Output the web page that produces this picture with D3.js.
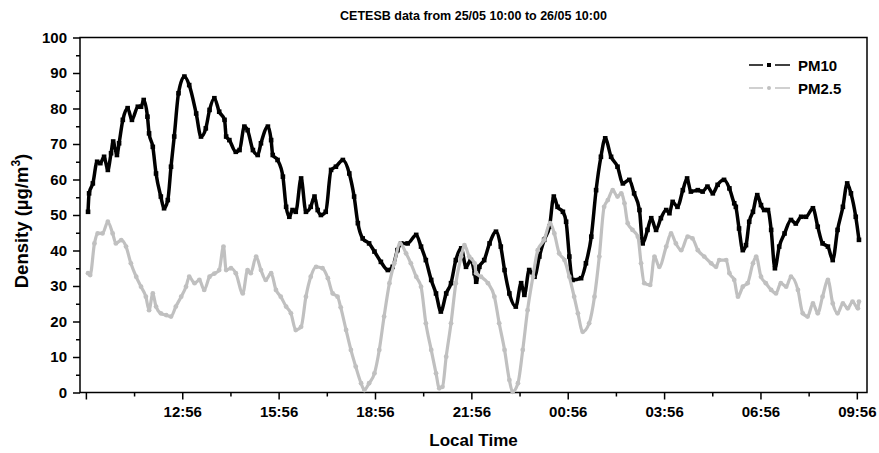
<!DOCTYPE html>
<html>
<head>
<meta charset="utf-8">
<script src="https://cdn.jsdelivr.net/npm/d3@7"></script>
<style>
body{margin:0;background:#fff;}
text{font-family:'Liberation Sans',Arial,sans-serif;font-weight:bold;fill:#000;}
</style>
</head>
<body>
<div id="plot"></div>
<script>
//Data (local time, µg/m3)
const pm10Times = ["10:00","10:02","10:09","10:17","10:23","10:30","10:37","10:43","10:47","10:54",
	"10:58","11:05","11:14","11:22","11:33","11:39","11:44","11:51","11:54","12:01",
	"12:07","12:16","12:22","12:29","12:35","12:41","12:49","13:00","13:09","13:22",
	"13:31","13:40","13:47","13:56","14:05","14:15","14:18","14:24","14:36","14:43",
	"14:52","14:58","15:08","15:17","15:23","15:36","15:42","15:45","15:54","16:04",
	"16:10","16:16","16:22","16:28","16:38","16:47","16:56","17:03","17:09","17:15",
	"17:24","17:34","17:43","17:56","18:08","18:17","18:24","18:33","18:45","18:55",
	"19:07","19:20","19:29","19:38","19:45","19:57","20:13","20:22","20:31","20:41",
	"20:50","20:59","21:09","21:18","21:27","21:37","21:46","21:55","22:02","22:05",
	"22:11","22:20","22:30","22:42","22:51","22:58","23:07","23:19","23:29","23:35",
	"23:44","23:54","00:03","00:12","00:22","00:30","00:37","00:47","00:53","00:59",
	"01:05","01:21","01:30","01:40","01:49","01:58","02:06","02:17","02:29","02:39",
	"02:51","03:00","03:10","03:16","03:25","03:32","03:41","03:50","04:00","04:06",
	"04:12","04:21","04:31","04:39","04:46","04:59","05:08","05:17","05:27","05:36",
	"05:48","05:58","06:07","06:10","06:16","06:23","06:29","06:35","06:42","06:50",
	"06:57","07:03","07:10","07:16","07:23","07:31","07:41","07:53","08:02","08:12",
	"08:21","08:34","08:43","08:52","09:02","09:11","09:20","09:30","09:38","09:45",
	"09:54","10:00"];
const pm10Values = [50.9,56.1,58.9,65.0,64.6,66.4,62.7,67.4,70.7,66.9,
	70.2,76.8,80.1,76.8,80.5,80.5,82.4,77.7,73.0,69.2,
	61.7,55.2,51.9,54.2,63.6,72.1,84.3,89.0,86.6,78.6,
	72.1,74.4,79.6,82.9,79.1,76.8,72.1,71.1,67.8,68.3,
	74.9,73.9,68.3,66.9,70.2,74.9,71.1,66.9,65.5,60.8,
	52.3,49.5,51.4,50.9,60.3,50.9,52.3,55.2,51.4,50.0,
	50.9,62.7,63.6,65.5,61.7,55.2,47.7,43.4,42.0,39.7,
	36.8,34.5,35.4,40.1,42.0,42.0,44.4,41.1,37.3,31.7,
	27.9,22.8,27.9,30.8,37.3,40.6,35.4,37.3,33.6,31.2,
	35.4,37.3,42.0,45.3,41.1,34.5,27.9,24.2,30.8,27.5,
	34.5,32.6,38.3,43.0,46.7,55.2,52.3,50.9,48.1,38.3,
	31.7,32.2,36.4,43.9,57.0,66.4,71.6,66.4,63.6,58.9,
	59.9,56.1,51.4,42.0,45.8,49.1,45.8,49.1,51.4,50.5,
	53.7,52.3,57.0,60.3,56.6,57.0,56.6,58.0,56.1,58.5,
	59.9,57.5,53.3,52.3,46.2,40.1,41.5,48.1,50.9,55.6,
	52.8,51.4,51.4,45.8,35.0,41.1,44.8,48.6,47.6,49.5,
	49.5,51.9,46.7,42.0,41.1,37.3,45.8,52.3,58.9,56.1,
	49.5,43.0];

const pm25Times = ["10:00","10:04","10:12","10:18","10:27","10:37","10:46","10:52","11:02","11:11",
	"11:20","11:30","11:39","11:48","11:54","12:01","12:07","12:16","12:26","12:35",
	"12:44","12:54","13:03","13:09","13:19","13:28","13:37","13:47","13:56","14:05",
	"14:13","14:18","14:27","14:36","14:49","14:58","15:04","15:14","15:23","15:32",
	"15:42","15:51","16:00","16:10","16:19","16:28","16:38","16:47","16:56","17:06",
	"17:18","17:28","17:37","17:46","17:52","18:02","18:11","18:20","18:30","18:36",
	"18:45","18:55","19:04","19:13","19:23","19:32","19:43","19:54","20:03","20:13",
	"20:22","20:31","20:41","20:50","20:56","21:02","21:09","21:18","21:27","21:37",
	"21:43","21:52","22:02","22:05","22:14","22:27","22:39","22:48","22:58","23:07",
	"23:13","23:23","23:32","23:41","23:51","00:00","00:12","00:23","00:31","00:40",
	"00:50","00:59","01:08","01:15","01:24","01:36","01:46","01:55","02:04","02:11",
	"02:20","02:29","02:36","02:42","02:48","02:57","03:07","03:13","03:19","03:30",
	"03:38","03:47","04:00","04:09","04:18","04:28","04:40","04:49","04:59","05:11",
	"05:24","05:33","05:39","05:52","05:58","06:07","06:14","06:23","06:32","06:42",
	"06:48","06:57","07:06","07:16","07:25","07:34","07:44","07:53","08:06","08:15",
	"08:24","08:34","08:43","08:52","09:02","09:11","09:20","09:30","09:39","09:48",
	"09:58","10:00"];
const pm25Values = [33.6,33.1,42.0,44.8,44.8,48.1,44.8,42.0,42.9,41.1,
	36.4,32.6,29.8,27.0,23.2,27.9,24.2,22.3,21.8,21.4,
	24.2,27.0,29.8,32.6,30.8,31.7,28.9,32.6,33.5,34.5,
	41.1,34.5,35.0,33.6,27.9,34.5,33.6,38.3,34.5,31.7,
	33.6,28.9,27.0,24.2,22.3,17.6,18.5,27.0,32.6,35.4,
	35.0,32.2,27.9,27.0,24.0,17.6,12.0,7.3,2.6,0.7,
	2.6,5.4,12.0,21.4,30.8,36.4,42.0,39.2,36.4,32.6,
	29.8,19.5,12.0,5.4,1.2,1.6,10.1,19.5,30.8,38.3,
	41.5,38.3,36.4,33.6,32.6,30.8,27.0,19.5,12.0,3.5,
	0.2,2.6,12.0,23.2,32.6,40.1,43.0,47.7,44.8,39.2,
	37.3,32.6,27.0,22.3,17.1,19.5,27.0,38.3,52.3,54.2,
	57.0,55.2,56.1,53.3,47.7,45.8,43.9,36.4,30.8,30.3,
	38.3,35.4,41.1,44.8,42.0,40.1,43.9,43.4,40.1,38.3,
	36.4,35.4,37.3,37.3,33.6,31.7,27.0,29.8,30.8,36.4,
	38.3,32.6,30.8,28.9,27.9,30.8,29.8,32.6,28.9,22.3,
	21.4,25.1,22.3,27.0,31.7,25.1,22.3,25.1,23.7,25.6,
	23.7,25.6];

const yTicks = [0,10,20,30,40,50,60,70,80,90,100];
const xTickLabels = ["","12:56","15:56","18:56","21:56","00:56","03:56","06:56","09:56"];
const seriesNames = ["PM10","PM2.5"];

//Prepare DOM canvas
const w = 879;
const h = 453;
const m = {l: 80, r: 867, t: 37.5, b: 392.5};
const svg = d3.select('#plot').append('svg').attr('width', w).attr('height', h);

//turn "HH:MM" into dates, moving to the next day after midnight
function toDates(times){
	let day = 0, prev = -1;
	return times.map(t => {
		const [hh, mm] = t.split(':').map(Number);
		const mins = hh*60 + mm;
		if(mins < prev) day++;
		prev = mins;
		return new Date(2000, 4, 25 + day, hh, mm);
	});
}

const pm10 = toDates(pm10Times).map((d, i) => ({date: d, value: pm10Values[i]}));
const pm25 = toDates(pm25Times).map((d, i) => ({date: d, value: pm25Values[i]}));

const x = d3.scaleTime()
	.domain([new Date(2000, 4, 25, 9, 45), new Date(2000, 4, 26, 10, 15)])
	.range([m.l, m.r]);
const y = d3.scaleLinear().domain([0, 100]).range([m.b, m.t]);

//ticks every 1.5 h from 09:56, labels every 3 h
const firstTick = new Date(2000, 4, 25, 9, 56);
const allTicks = d3.range(0, 17).map(i => d3.timeMinute.offset(firstTick, i*90));
const majorX = allTicks.filter((d, i) => i % 2 === 0);
const minorX = allTicks.filter((d, i) => i % 2 === 1);

svg.append('g').attr('transform', `translate(0,${m.b})`)
	.call(d3.axisBottom(x).tickValues(majorX).tickSize(7).tickPadding(7)
		.tickFormat((d, i) => xTickLabels[i]));
svg.append('g').attr('transform', `translate(0,${m.b})`)
	.call(d3.axisBottom(x).tickValues(minorX).tickSize(4).tickFormat(''));

svg.append('g').attr('transform', `translate(${m.l},0)`)
	.call(d3.axisLeft(y).tickValues(yTicks).tickSize(7).tickPadding(6));
svg.append('g').attr('transform', `translate(${m.l},0)`)
	.call(d3.axisLeft(y).tickValues(yTicks.slice(1).map(v => v - 5)).tickSize(4).tickFormat(''));

svg.selectAll('.domain').remove();
svg.selectAll('.tick line').style('stroke', '#000').style('stroke-width', 1.5);
svg.selectAll('.tick text').style('font-size', '15px');

//frame
svg.append('rect')
	.attr('x', m.l).attr('y', m.t)
	.attr('width', m.r - m.l).attr('height', m.b - m.t)
	.style('fill', 'none').style('stroke', '#000').style('stroke-width', 1.5);

//series
const line = d3.line().x(d => x(d.date)).y(d => y(d.value)).curve(d3.curveMonotoneX);

svg.append('path').datum(pm10)
	.attr('d', line)
	.style('fill', 'none').style('stroke', '#000').style('stroke-width', 3.5);
svg.append('g').selectAll('rect').data(pm10).enter()
	.append('rect')
	.attr('x', d => x(d.date) - 2.3).attr('y', d => y(d.value) - 2.3)
	.attr('width', 4.6).attr('height', 4.6)
	.style('fill', '#000');

svg.append('path').datum(pm25)
	.attr('d', line)
	.style('fill', 'none').style('stroke', '#c0c0c0').style('stroke-width', 3.2);
svg.append('g').selectAll('circle').data(pm25).enter()
	.append('circle')
	.attr('cx', d => x(d.date)).attr('cy', d => y(d.value))
	.attr('r', 2.4)
	.style('fill', '#c0c0c0');

//legend
const legend = svg.append('g');
const legendColors = ['#000', '#c0c0c0'];
seriesNames.forEach((name, i) => {
	const ly = 65 + i*23;
	const g = legend.append('g').attr('transform', `translate(0,${ly})`);
	g.append('line').attr('x1', 749).attr('x2', 763).attr('y1', 0).attr('y2', 0)
		.style('stroke', legendColors[i]).style('stroke-width', 1.5);
	g.append('line').attr('x1', 775).attr('x2', 790).attr('y1', 0).attr('y2', 0)
		.style('stroke', legendColors[i]).style('stroke-width', 1.5);
	if(i === 0){
		g.append('rect').attr('x', 767).attr('y', -2).attr('width', 4).attr('height', 4)
			.style('fill', legendColors[i]);
	}else{
		g.append('circle').attr('cx', 769).attr('cy', 0).attr('r', 2)
			.style('fill', legendColors[i]);
	}
	g.append('text').attr('x', 798).attr('y', 5.5)
		.style('font-size', '15px').text(name);
});

//titles
svg.append('text')
	.attr('x', (m.l + m.r)/2).attr('y', 20)
	.attr('text-anchor', 'middle')
	.style('font-size', '12.5px')
	.text('CETESB data from 25/05 10:00 to 26/05 10:00');

svg.append('text')
	.attr('x', (m.l + m.r)/2).attr('y', 446)
	.attr('text-anchor', 'middle')
	.style('font-size', '17px')
	.text('Local Time');

const yLabel = svg.append('text')
	.attr('transform', 'translate(28,221) rotate(-90)')
	.attr('text-anchor', 'middle')
	.style('font-size', '18.5px');
yLabel.append('tspan').text('Density (µg/m');
yLabel.append('tspan').attr('dy', -8).style('font-size', '12px').text('3');
yLabel.append('tspan').attr('dy', 8).text(')');
</script>
</body>
</html>
